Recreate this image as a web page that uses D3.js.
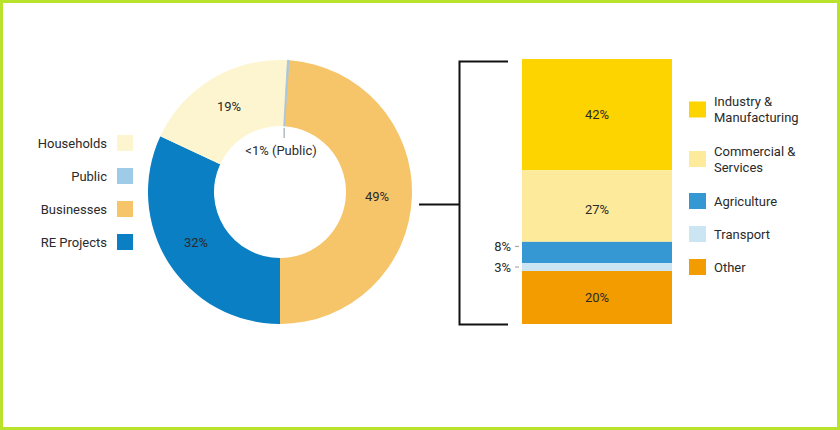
<!DOCTYPE html>
<html>
<head>
<meta charset="utf-8">
<script src="https://cdn.jsdelivr.net/npm/d3@7"></script>
<style>
  body { margin: 0; background: #fff; }
  svg text { font-family: Roboto, "Open Sans", sans-serif; font-size: 13px; fill: #2a2a2a; }
</style>
</head>
<body>
<svg class="chart"></svg>
<script>
// donut data (clockwise from the top)
var donutNames = ["Businesses", "RE Projects", "Households", "Public"];
var donutValues = [49, 32, 19, 0.2];
var donutLabels = ["49%", "32%", "", ""];
var donutColors = ["#f6c469", "#0a7fc4", "#fdf5cf", "#9ecbe8"];

// left legend order
var legendNames = ["Households", "Public", "Businesses", "RE Projects"];

// stacked bar data (top to bottom)
var barNames = ["Industry & Manufacturing", "Commercial & Services", "Agriculture", "Transport", "Other"];
var barValues = [42, 27, 8, 3, 20];
var barColors = ["#fdd300", "#fdeb9b", "#3598d2", "#cce5f3", "#f39c00"];
var barLegendLines = [["Industry &", "Manufacturing"], ["Commercial &", "Services"], ["Agriculture"], ["Transport"], ["Other"]];

var width = 840, height = 430;

var svg = d3.select("svg.chart")
  .attr("width", width)
  .attr("height", height);

// frame
svg.append("rect")
  .attr("x", 1.5).attr("y", 1.5)
  .attr("width", width - 3).attr("height", height - 3)
  .attr("fill", "none")
  .attr("stroke", "#b9e22b")
  .attr("stroke-width", 3);

// ---- donut ----
var cx = 280, cy = 192, outerR = 132, innerR = 66;
var total = d3.sum(donutValues);
var start = Math.PI - 2 * Math.PI * donutValues[0] / total;

var pie = d3.pie().sort(null).value(function(d) { return d; })
  .startAngle(start).endAngle(start + 2 * Math.PI);
var arc = d3.arc().innerRadius(innerR).outerRadius(outerR);

var donut = svg.append("g")
  .attr("transform", "translate(" + cx + "," + cy + ")");

var arcs = pie(donutValues);

donut.selectAll("path")
  .data(arcs)
  .enter().append("path")
    .attr("d", arc)
    .attr("fill", function(d, i) { return donutColors[i]; })
    .attr("stroke", function(d, i) { return i === 3 ? "#a9c3d3" : "none"; })
    .attr("stroke-width", 0.8);

// percent labels inside the ring
donut.selectAll("text.pct")
  .data(arcs)
  .enter().append("text")
    .attr("class", "pct")
    .attr("text-anchor", "middle")
    .attr("dy", "0.35em")
    .attr("transform", function(d, i) {
      var c = [0, 0];
      if (i === 0) c = [97, 4];
      if (i === 1) c = [-84, 50];
      return "translate(" + c + ")";
    })
    .text(function(d, i) { return donutLabels[i]; });

// households label
donut.append("text")
  .attr("text-anchor", "middle")
  .attr("dy", "0.35em")
  .attr("transform", "translate(" + [-51, -86] + ")")
  .text(d3.format(".0f")(donutValues[2]) + "%");

// public call-out
var pubAngle = (arcs[3].startAngle + arcs[3].endAngle) / 2;
var px = (innerR) * Math.sin(pubAngle);
donut.append("line")
  .attr("x1", px).attr("x2", px)
  .attr("y1", -innerR + 2).attr("y2", -innerR + 12)
  .attr("stroke", "#8a9aa6").attr("stroke-width", 1);
donut.append("text")
  .attr("text-anchor", "middle")
  .attr("x", 1).attr("y", -37)
  .text("<1% (Public)");

// left legend
var legY = d3.scalePoint().domain(legendNames).range([143, 242]);
var leg = svg.append("g").selectAll("g")
  .data(legendNames)
  .enter().append("g")
    .attr("transform", function(d) { return "translate(0," + legY(d) + ")"; });
leg.append("rect")
  .attr("x", 117).attr("y", -8)
  .attr("width", 16).attr("height", 16)
  .attr("fill", function(d) { return donutColors[donutNames.indexOf(d)]; });
leg.append("text")
  .attr("x", 107).attr("dy", "0.35em")
  .attr("text-anchor", "end")
  .text(function(d) { return d; });

// ---- bracket ----
var bracket = svg.append("g")
  .attr("fill", "none").attr("stroke", "#111").attr("stroke-width", 2);
bracket.append("path")
  .attr("d", d3.line()([[508, 61.5], [459.5, 61.5], [459.5, 324.5], [508, 324.5]]));
bracket.append("path")
  .attr("d", d3.line()([[419, 204.5], [459.5, 204.5]]));

// ---- stacked bar ----
var barTop = 59, barBottom = 324, barX = 522, barW = 150;
var y = d3.scaleLinear().domain([0, d3.sum(barValues)]).range([barTop, barBottom]);
var cum = d3.cumsum(barValues);
var segs = barValues.map(function(v, i) {
  return { name: barNames[i], value: v, y0: cum[i] - v, y1: cum[i], i: i };
});

var bar = svg.append("g");
bar.selectAll("rect")
  .data(segs)
  .enter().append("rect")
    .attr("x", barX)
    .attr("width", barW)
    .attr("y", function(d) { return y(d.y0); })
    .attr("height", function(d) { return y(d.y1) - y(d.y0); })
    .attr("fill", function(d) { return barColors[d.i]; });

// labels inside large segments
bar.selectAll("text.in")
  .data(segs.filter(function(d) { return d.value >= 10; }))
  .enter().append("text")
    .attr("class", "in")
    .attr("x", barX + barW / 2)
    .attr("y", function(d) { return (y(d.y0) + y(d.y1)) / 2 + (d.i === 1 ? 3 : 0); })
    .attr("dy", "0.35em")
    .attr("text-anchor", "middle")
    .text(function(d) { return d.value + "%"; });

// labels beside small segments
var small = segs.filter(function(d) { return d.value < 10; });
var sg = bar.selectAll("g.out")
  .data(small)
  .enter().append("g")
    .attr("class", "out")
    .attr("transform", function(d, k) {
      var yy = k === 0 ? (y(d.y0) + 4.5) : (y(d.y0) + y(d.y1)) / 2;
      return "translate(0," + yy + ")";
    });
sg.append("line")
  .attr("x1", 515).attr("x2", 519)
  .attr("stroke", "#999").attr("stroke-width", 1);
sg.append("text")
  .attr("x", 511).attr("dy", "0.35em")
  .attr("text-anchor", "end")
  .text(function(d) { return d.value + "%"; });

// right legend
var rlY = [109.5, 159, 201, 234, 267];
var rl = svg.append("g").selectAll("g")
  .data(segs)
  .enter().append("g")
    .attr("transform", function(d) { return "translate(0," + rlY[d.i] + ")"; });
rl.append("rect")
  .attr("x", 689).attr("y", -8)
  .attr("width", 17).attr("height", 16)
  .attr("fill", function(d) { return barColors[d.i]; });
rl.append("text")
  .attr("x", 714)
  .attr("y", function(d) { return barLegendLines[d.i].length > 1 ? -8 : 0; })
  .attr("dy", "0.35em")
  .selectAll("tspan")
  .data(function(d) { return barLegendLines[d.i]; })
  .enter().append("tspan")
    .attr("x", 714)
    .attr("dy", function(t, j) { return j === 0 ? "0.35em" : "16px"; })
    .text(function(t) { return t; });
</script>
</body>
</html>
